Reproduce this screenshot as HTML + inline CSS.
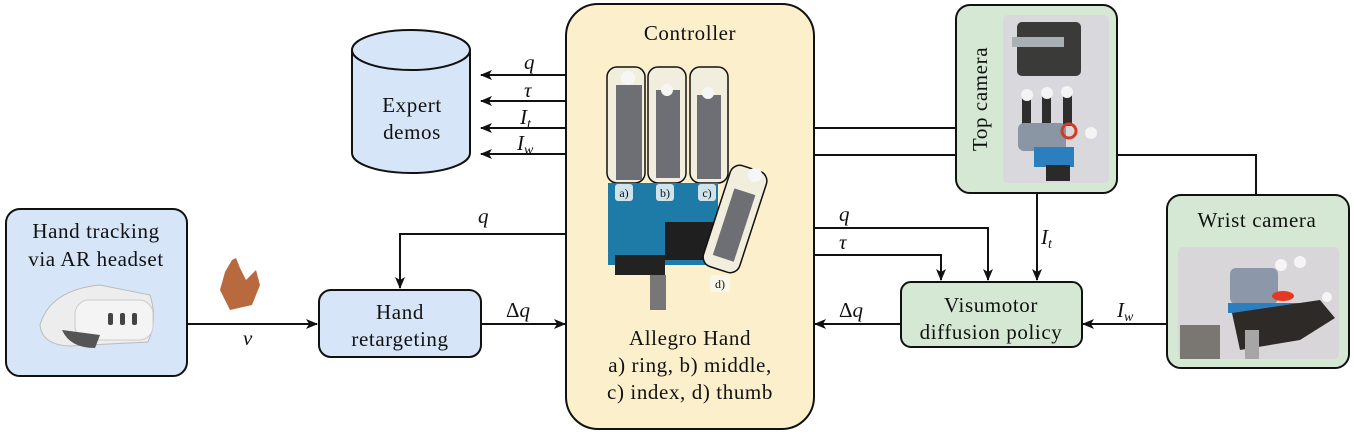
<!DOCTYPE html>
<html><head><meta charset="utf-8"><style>
html,body{margin:0;padding:0;background:#fff;}
svg{display:block}
text{font-family:"Liberation Serif",serif;fill:#111;}
.t{font-size:21px;text-anchor:middle;letter-spacing:0.6px}
.m{font-size:21px;font-style:italic}
</style></head><body>
<svg width="1354" height="437" viewBox="0 0 1354 437" xmlns="http://www.w3.org/2000/svg">
<defs>
<marker id="a" viewBox="0 0 12 10" refX="11" refY="5" markerWidth="13" markerHeight="10" markerUnits="userSpaceOnUse" orient="auto">
<path d="M0,0 L12,5 L0,10 L3,5 Z" fill="#111"/></marker>
</defs>
<g stroke="#111" stroke-width="2" fill="none">
<rect x="566" y="4" width="248" height="425" rx="32" fill="#fcefcb"/>
<line x1="566" y1="75" x2="481" y2="75" marker-end="url(#a)"/>
<line x1="566" y1="101" x2="481" y2="101" marker-end="url(#a)"/>
<line x1="566" y1="128" x2="481" y2="128" marker-end="url(#a)"/>
<line x1="566" y1="154" x2="481" y2="154" marker-end="url(#a)"/>
<polyline points="566,234 400,234 400,288" marker-end="url(#a)"/>
<line x1="157" y1="324" x2="317" y2="324" marker-end="url(#a)"/>
<line x1="481" y1="324" x2="565" y2="324" marker-end="url(#a)"/>
<line x1="814" y1="128" x2="956" y2="128"/>
<line x1="814" y1="155" x2="956" y2="155"/>
<polyline points="1117,155 1256,155 1256,195"/>
<polyline points="814,228 988,228 988,280" marker-end="url(#a)"/>
<polyline points="814,255 941,255 941,280" marker-end="url(#a)"/>
<line x1="1037" y1="193" x2="1037" y2="280" marker-end="url(#a)"/>
<line x1="901" y1="324" x2="815" y2="324" marker-end="url(#a)"/>
<line x1="1167" y1="324" x2="1083" y2="324" marker-end="url(#a)"/>
<path d="M352,50 L352,153 A59,20 0 0 0 470,153 L470,50" fill="#d6e5f7"/>
<ellipse cx="411" cy="50" rx="59" ry="20" fill="#d6e5f7"/>
<rect x="6" y="209" width="181" height="167" rx="14" fill="#d6e5f7"/>
<rect x="319" y="290" width="162" height="67" rx="12" fill="#d6e5f7"/>
<rect x="901" y="282" width="181" height="65" rx="10" fill="#d5e8d4"/>
<rect x="956" y="5" width="161" height="188" rx="14" fill="#d5e8d4"/>
<rect x="1167" y="195" width="182" height="173" rx="14" fill="#d5e8d4"/>
</g>
<rect x="1003" y="15" width="106" height="168" rx="5" fill="#d9d8dc"/>
<rect x="1017" y="22" width="64" height="54" rx="5" fill="#3a3a38"/>
<rect x="1012" y="37" width="52" height="10" fill="#a9b0b5"/>
<g fill="#2e2e2e"><rect x="1022" y="92" width="9" height="40"/><rect x="1042" y="92" width="9" height="36"/><rect x="1063" y="92" width="9" height="34"/></g>
<g fill="#f4f4f4"><circle cx="1027" cy="95" r="6"/><circle cx="1047" cy="93" r="6"/><circle cx="1067" cy="92" r="6"/><circle cx="1091" cy="133" r="6"/></g>
<rect x="1018" y="123" width="48" height="28" rx="6" fill="#8b96a5"/>
<circle cx="1069" cy="131" r="7" fill="none" stroke="#d43b22" stroke-width="3"/>
<rect x="1034" y="147" width="40" height="20" fill="#2b7fbf"/>
<rect x="1046" y="165" width="24" height="16" fill="#2a2a2a"/>
<rect x="1178" y="247" width="161" height="112" rx="5" fill="#d8d6d8"/>
<rect x="1230" y="268" width="48" height="36" rx="6" fill="#8c98aa"/>
<rect x="1228" y="303" width="72" height="10" fill="#2b7fbf"/>
<path d="M1232,313 L1320,300 L1335,318 L1300,340 L1240,350 Z" fill="#2d2a28"/>
<rect x="1180" y="325" width="40" height="34" fill="#7a7672"/>
<rect x="1245" y="330" width="14" height="29" fill="#a6a6a6"/>
<ellipse cx="1283" cy="296" rx="11" ry="5" fill="#e53820"/>
<g fill="#f5f5f5"><circle cx="1281" cy="265" r="6"/><circle cx="1300" cy="262" r="6"/><circle cx="1327" cy="297" r="5"/></g>
<path d="M40,325 Q50,290 100,285 L150,295 Q158,320 148,342 L70,346 Q42,345 40,325Z" fill="#ededed" stroke="#bbb"/>
<rect x="75" y="300" width="78" height="40" rx="14" fill="#f4f4f4" stroke="#ccc"/>
<g fill="#444"><rect x="108" y="313" width="5" height="12" rx="2"/><rect x="120" y="313" width="5" height="12" rx="2"/><rect x="132" y="313" width="5" height="12" rx="2"/></g>
<path d="M62,330 Q70,348 95,348 L100,335 Z" fill="#555"/>
<path d="M220,290 L225,272 L232,260 L236,258 L240,268 L246,280 L256,270 L260,285 L252,305 L230,310 Z" fill="#b86a3e"/>
<g stroke="#111" stroke-width="1.5" fill="#f2eedd">
<rect x="607" y="67" width="38" height="116" rx="10"/>
<rect x="648" y="67" width="38" height="116" rx="10"/>
<rect x="690" y="67" width="38" height="116" rx="10"/>
</g>
<g fill="#6d6f75"><rect x="616" y="85" width="26" height="95"/><rect x="656" y="90" width="24" height="88"/><rect x="697" y="95" width="24" height="84"/></g>
<g fill="#f6f6f6"><circle cx="628" cy="78" r="7"/><circle cx="667" cy="90" r="6"/><circle cx="708" cy="93" r="6"/></g>
<rect x="608" y="183" width="110" height="82" fill="#1e7aa6"/>
<rect x="615" y="255" width="50" height="20" fill="#222"/>
<rect x="665" y="222" width="50" height="38" fill="#1f1f1f"/>
<rect x="650" y="275" width="16" height="35" fill="#777"/>
<g fill="#cfe3ec"><rect x="615" y="184" width="18" height="17" rx="3"/><rect x="656" y="184" width="18" height="17" rx="3"/><rect x="698" y="184" width="18" height="17" rx="3"/></g>
<rect x="710" y="275" width="20" height="17" rx="3" fill="#fbf6ea"/>
<rect x="716" y="166" width="38" height="106" rx="10" transform="rotate(18 735 219)" fill="#f2eedd" stroke="#111" stroke-width="1.5"/>
<rect x="725" y="190" width="22" height="70" transform="rotate(18 735 219)" fill="#6d6f75"/>
<circle cx="755" cy="175" r="7" fill="#f6f6f6"/>
<g style="font-size:12px" text-anchor="middle"><text x="624" y="197">a)</text><text x="665" y="197">b)</text><text x="707" y="197">c)</text><text x="720" y="288">d)</text></g>
<text class="t" x="690" y="40">Controller</text>
<text class="t" x="690" y="345">Allegro Hand</text>
<text class="t" x="690" y="372">a) ring, b) middle,</text>
<text class="t" x="690" y="399">c) index, d) thumb</text>
<text class="t" x="412" y="112">Expert</text>
<text class="t" x="412" y="139">demos</text>
<text class="t" x="96" y="238">Hand tracking</text>
<text class="t" x="96" y="266">via AR headset</text>
<text class="t" x="400" y="319">Hand</text>
<text class="t" x="400" y="346">retargeting</text>
<text class="t" x="991" y="312">Visumotor</text>
<text class="t" x="991" y="339">diffusion policy</text>
<text class="t" x="1257" y="227">Wrist camera</text>
<text class="t" transform="translate(987 99) rotate(-90)">Top camera</text>
<g class="m">
<text x="524" y="69">q</text><text x="524" y="97">τ</text><text x="520" y="124">I<tspan font-size="14" dy="4">t</tspan></text><text x="517" y="150">I<tspan font-size="14" dy="4">w</tspan></text>
<text x="478" y="223">q</text>
<text x="243" y="345">v</text>
<text x="506" y="317" font-style="normal">Δ<tspan font-style="italic">q</tspan></text>
<text x="839" y="221">q</text><text x="839" y="249">τ</text>
<text x="1041" y="244">I<tspan font-size="14" dy="4">t</tspan></text>
<text x="839" y="317" font-style="normal">Δ<tspan font-style="italic">q</tspan></text>
<text x="1117" y="317">I<tspan font-size="14" dy="4">w</tspan></text>
</g>
</svg>
</body></html>
